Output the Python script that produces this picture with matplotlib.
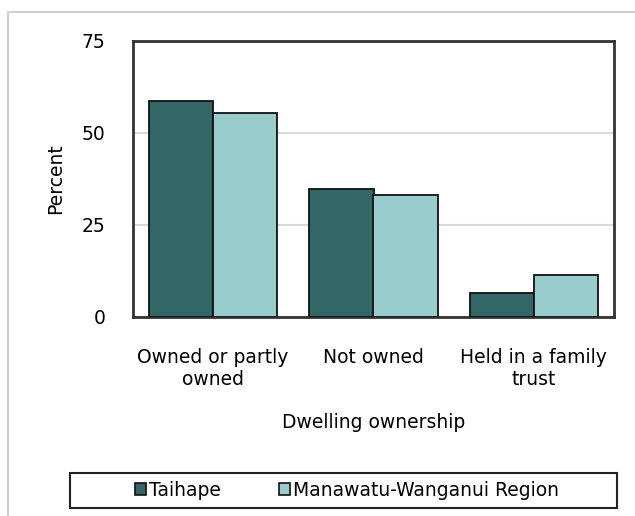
import matplotlib
matplotlib.use("Agg")
import matplotlib.pyplot as plt
from matplotlib.patches import Rectangle, Patch
import numpy as np

categories = ["Owned or partly\nowned", "Not owned", "Held in a family\ntrust"]
series_names = ["Taihape", "Manawatu-Wanganui Region"]
taihape = [58.6, 34.8, 6.6]
region = [55.3, 33.1, 11.5]
yticks = [0, 25, 50, 75]

colors = ["#336666", "#99CCCC"]

plt.rcParams['font.family'] = ['DejaVu Sans']
FS = 13.5

W, H = 635, 516
fig = plt.figure(figsize=(W / 100, H / 100), dpi=100)

# outer light border
fig.patches.append(Rectangle((8 / W, -0.1), 1.2, 1 - 12 / H + 0.1, transform=fig.transFigure,
                             fill=False, edgecolor="#D0D0D0", linewidth=1.5))
# legend box
fig.patches.append(Rectangle((70 / W, 1 - 508 / H), (617 - 70) / W, 35 / H, transform=fig.transFigure,
                             fill=False, edgecolor="#222222", linewidth=1.5))

ax = fig.add_axes([133 / W, 1 - 317 / H, (614 - 133) / W, (317 - 41) / H])
x = np.arange(len(categories))
w = 0.4
ax.bar(x - w / 2, taihape, w, color=colors[0], edgecolor="#111111", linewidth=1.3, zorder=3, label=series_names[0])
ax.bar(x + w / 2, region, w, color=colors[1], edgecolor="#111111", linewidth=1.3, zorder=3, label=series_names[1])

ax.set_xlim(-0.5, 2.5)
ax.set_ylim(0, 75)
ax.set_yticks(yticks)
ax.set_xticks(x)
ax.set_xticklabels(categories, fontsize=FS, linespacing=1.25)
ax.tick_params(axis='both', length=0, labelsize=FS, colors="#000000")
ax.tick_params(axis='y', pad=20)
ax.tick_params(axis='x', pad=22)
ax.yaxis.grid(True, color="#D9D9D9", linewidth=1.5, zorder=0)
for s in ax.spines.values():
    s.set_color("#333333")
    s.set_linewidth(2)
ax.set_ylabel("Percent", fontsize=FS, labelpad=12)
ax.set_xlabel("Dwelling ownership", fontsize=FS, labelpad=17)

handles = [Patch(facecolor=colors[0], edgecolor="#111111", linewidth=1.2),
           Patch(facecolor=colors[1], edgecolor="#111111", linewidth=1.2)]
leg = fig.legend(handles, series_names, loc="center", ncol=2,
                 bbox_to_anchor=(347 / W, 1 - 490.5 / H),
                 fontsize=FS, frameon=False,
                 handlelength=0.6, handleheight=0.6, handletextpad=0.15, columnspacing=3.1,
                 borderpad=0.0)

fig.savefig("out.png", dpi=100)
